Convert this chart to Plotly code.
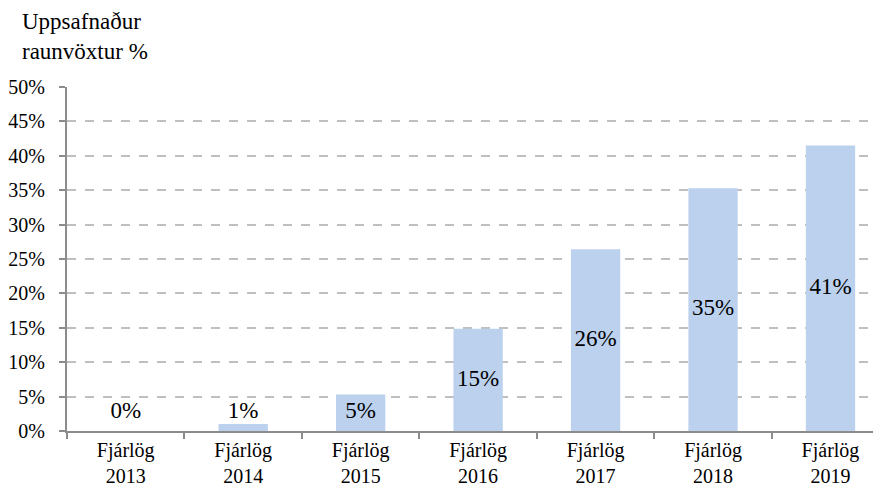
import plotly.graph_objects as go

categories = ["Fjárlög<br>2013", "Fjárlög<br>2014", "Fjárlög<br>2015", "Fjárlög<br>2016",
              "Fjárlög<br>2017", "Fjárlög<br>2018", "Fjárlög<br>2019"]
values = [0.0, 1.0, 5.3, 14.85, 26.4, 35.3, 41.5]
labels = ["0%", "1%", "5%", "15%", "26%", "35%", "41%"]
y_ticks = [0, 5, 10, 15, 20, 25, 30, 35, 40, 45, 50]
y_tick_text = [f"{t}%\u2002" for t in y_ticks]
title_text = "Uppsafnaður<br>raunvöxtur %"

FONT = "Times New Roman, Liberation Serif, serif"
W, H = 873, 487
L, R, T, B = 55, 0, 79, 64

label_y = [max(v / 2, 2.7) for v in values]

fig = go.Figure()
fig.add_trace(go.Bar(
    x=categories, y=values, width=0.42,
    marker=dict(color="#bcd1ee", line=dict(width=0)),
    hoverinfo="skip", showlegend=False,
))
fig.add_trace(go.Scatter(
    x=categories, y=label_y, mode="text", text=labels,
    textfont=dict(family=FONT, size=23, color="black"),
    textposition="middle center", hoverinfo="skip", showlegend=False,
))

pw = W - L - R
ph = H - T - B
fig.add_annotation(
    text=title_text, xref="paper", yref="paper",
    x=(8 - L) / pw, y=1 + (T + 1) / ph, xanchor="left", yanchor="top",
    showarrow=False, align="left",
    font=dict(family=FONT, size=23, color="black"),
)

fig.update_layout(
    width=W, height=H,
    margin=dict(l=L, r=R, t=T, b=B, pad=0),
    paper_bgcolor="white", plot_bgcolor="white",
    font=dict(family=FONT, size=20, color="black"),
    bargap=0.58,
    xaxis=dict(
        range=[-0.5, 6.43], showgrid=False, showline=True,
        linecolor="#8c8c8c", linewidth=2,
        ticks="outside", tickson="boundaries", ticklen=6, tickcolor="#8c8c8c", tickwidth=2,
        tickfont=dict(family=FONT, size=20, color="black"),
    ),
    yaxis=dict(
        range=[0, 50], tickvals=y_ticks, ticktext=y_tick_text,
        showgrid=True, gridcolor="#bfbfbf", gridwidth=2, griddash="dash",
        showline=True, linecolor="#8c8c8c", linewidth=2,
        ticks="outside", ticklen=6, tickcolor="#8c8c8c", tickwidth=2,
        tickfont=dict(family=FONT, size=20, color="black"),
        zeroline=False,
    ),
)

fig.write_html("out.html")
